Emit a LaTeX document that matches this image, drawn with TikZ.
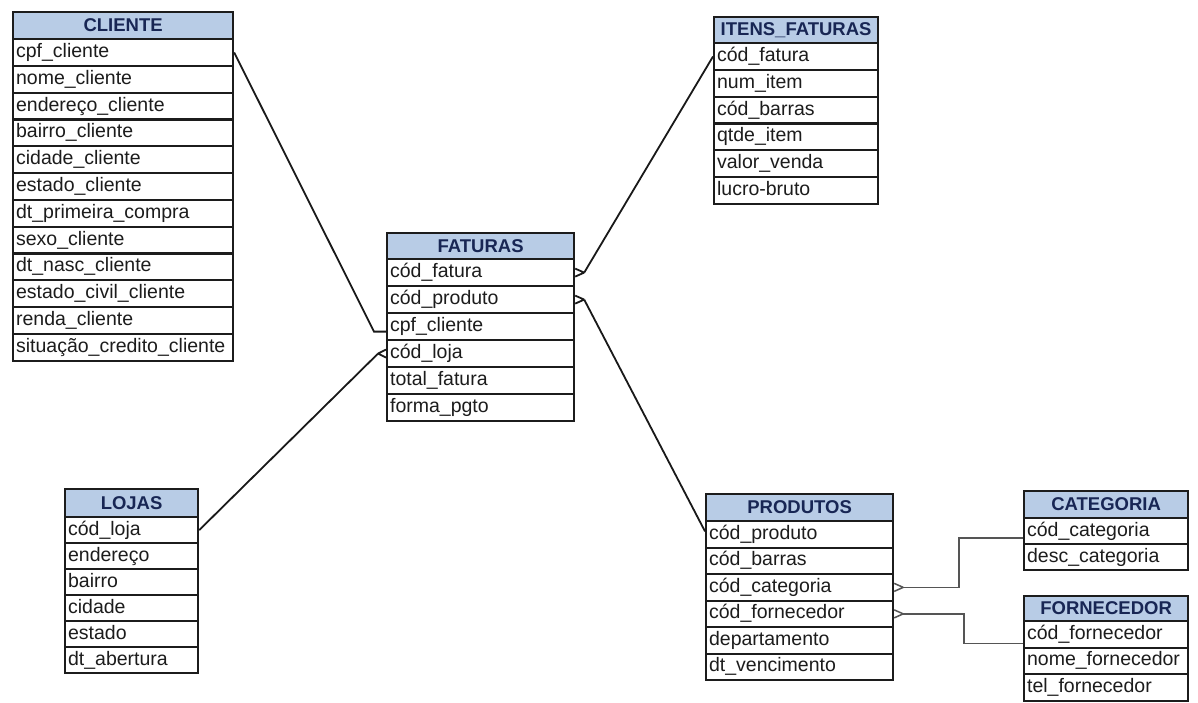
\documentclass[tikz,border=0pt]{standalone}
\usepackage{fontspec}
\setmainfont{Liberation Sans}
\definecolor{hdrfill}{RGB}{184,204,230}
\definecolor{hdrtext}{RGB}{24,38,84}
\definecolor{ink}{RGB}{28,28,28}
\definecolor{wire}{RGB}{25,25,25}
\definecolor{wiregray}{RGB}{85,85,85}
\tikzset{
  tblhead/.style={draw=ink, line width=2.2pt, fill=hdrfill, text=hdrtext,
    font=\fontsize{18.5}{20}\selectfont\bfseries, inner sep=0pt, anchor=north west},
  tblrow/.style={draw=ink, line width=2.2pt, fill=white, text=ink,
    font=\fontsize{19.5}{21}\selectfont, inner xsep=3pt, inner ysep=0pt,
    text height=14pt, text depth=4pt, anchor=north west},
  conn/.style={draw=wire, line width=1.8pt},
  ortho/.style={draw=wiregray, line width=1.5pt},
}
% #1 name, #2 x, #3 y, #4 width, #5 header height, #6 row height, #7 title, #8 fields
\newcommand{\ertable}[8]{%
  \node[tblhead, minimum width=#4pt, minimum height=#5pt] (#1-h) at (#2,#3) {#7};
  \foreach \fld [count=\i] in {#8} {
    \node[tblrow, minimum height=#6pt] (#1-\i) at ({#2},{#3+#5+(\i-1)*#6})
      {\makebox[\dimexpr#4pt-6pt\relax][l]{\fld}};
  }
}
% crow's foot: apex at distance #2 from the side of row node #1
\newcommand{\footeast}[2]{([xshift=#2pt]#1.east) -- ([yshift=4pt]#1.east)
  ([xshift=#2pt]#1.east) -- ([yshift=-4pt]#1.east)}
\newcommand{\footwest}[2]{([xshift=-#2pt]#1.west) -- ([yshift=4pt]#1.west)
  ([xshift=-#2pt]#1.west) -- ([yshift=-4pt]#1.west)}
\begin{document}
\begin{tikzpicture}[x=1pt,y=-1pt]
\useasboundingbox[fill=white] (0,0) rectangle (1198,702);

\ertable{cli}{12}{11}{220}{27}{26.8}{CLIENTE}{cpf\_cliente,nome\_cliente,endereço\_cliente,bairro\_cliente,cidade\_cliente,estado\_cliente,dt\_primeira\_compra,sexo\_cliente,dt\_nasc\_cliente,estado\_civil\_cliente,renda\_cliente,situação\_credito\_cliente}

\ertable{itf}{713}{16}{164}{26}{26.8}{ITENS\_FATURAS}{cód\_fatura,num\_item,cód\_barras,qtde\_item,valor\_venda,lucro-bruto}

\ertable{fat}{386}{232}{187}{26}{27}{FATURAS}{cód\_fatura,cód\_produto,cpf\_cliente,cód\_loja,total\_fatura,forma\_pgto}

\ertable{loj}{64}{488}{133}{28}{26}{LOJAS}{cód\_loja,endereço,bairro,cidade,estado,dt\_abertura}

\ertable{pro}{705}{493}{187}{27}{26.5}{PRODUTOS}{cód\_produto,cód\_barras,cód\_categoria,cód\_fornecedor,departamento,dt\_vencimento}

\ertable{cat}{1023}{490}{164}{27}{26}{CATEGORIA}{cód\_categoria,desc\_categoria}

\ertable{for}{1023}{595}{164}{25}{26.5}{FORNECEDOR}{cód\_fornecedor,nome\_fornecedor,tel\_fornecedor}

% relationships
\draw[conn] (cli-1.east) -- ([xshift=-12pt,yshift=-5pt]fat-3.west) -- ([yshift=-5pt]fat-3.west);
\draw[conn] (loj-1.east) -- ([xshift=-8pt]fat-4.west);
\draw[conn] \footwest{fat-4}{8};
\draw[conn] ([xshift=9pt]fat-1.east) -- (itf-1.west);
\draw[conn] \footeast{fat-1}{9};
\draw[conn] ([xshift=9pt]fat-2.east) -- ([yshift=3pt]pro-1.west);
\draw[conn] \footeast{fat-2}{9};
\draw[ortho] ([xshift=9pt]pro-3.east) -- ++(56,0) |- ([yshift=-7pt]cat-1.west);
\draw[ortho] \footeast{pro-3}{9};
\draw[ortho] ([xshift=9pt]pro-4.east) -- ++(61,0) |- ([yshift=-9pt]for-1.west);
\draw[ortho] \footeast{pro-4}{9};
\end{tikzpicture}
\end{document}
